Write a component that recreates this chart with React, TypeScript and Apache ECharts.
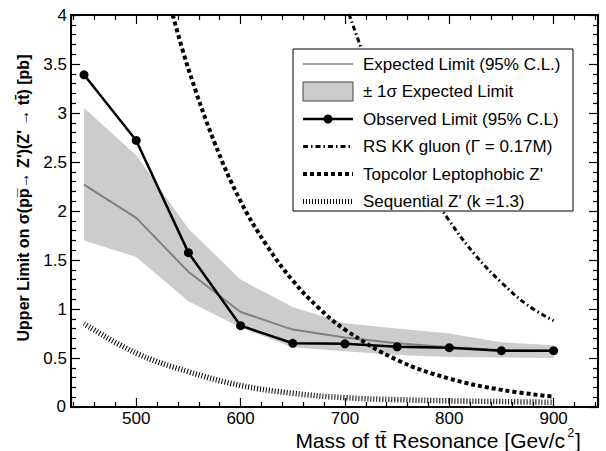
import React, { useEffect, useRef } from "react";
import * as echarts from "echarts";

// ---- data ----
const masses = [450, 500, 550, 600, 650, 700, 750, 800, 850, 900];
const observed = [3.39, 2.72, 1.575, 0.83, 0.65, 0.645, 0.615, 0.605, 0.575, 0.575];
const expected = [2.27, 1.93, 1.38, 0.97, 0.79, 0.71, 0.65, 0.61, 0.58, 0.575];
const bandUpper = [3.05, 2.57, 1.82, 1.3, 1.02, 0.855, 0.8, 0.75, 0.66, 0.63];
const bandLower = [1.7, 1.53, 1.08, 0.81, 0.61, 0.57, 0.53, 0.51, 0.505, 0.5];

const kkMass = [700, 725, 750, 775, 800, 825, 850, 875, 900];
const kkXsec = [4.13, 3.4, 2.8, 2.31, 1.9, 1.55, 1.27, 1.04, 0.88];
const tcMass = [535, 550, 575, 600, 625, 650, 675, 700, 750, 800, 850, 900];
const tcXsec = [4.0, 3.45, 2.7, 2.1, 1.65, 1.29, 1.01, 0.79, 0.48, 0.29, 0.175, 0.105];
const seqMass = [450, 500, 550, 600, 650, 700, 750, 800, 850, 900];
const seqXsec = [0.85, 0.55, 0.36, 0.22, 0.14, 0.095, 0.075, 0.063, 0.055, 0.048];

const xTickLabels = [500, 600, 700, 800, 900];
const yTickLabels = [0.5, 1, 1.5, 2, 2.5, 3, 3.5, 4];
const yOriginLabel = "0";

const legendLabels = [
  "Expected Limit (95% C.L.)",
  "\u00B1 1\u03C3 Expected Limit",
  "Observed Limit (95% C.L)",
  "RS KK gluon (\u0393 = 0.17M)",
  "Topcolor Leptophobic Z'",
  "Sequential Z' (k =1.3)",
];
const yTitle = "Upper Limit on \u03C3(pp\u0305\u2192 Z')(Z' \u2192 tt\u0304) [pb]";
const xTitleMain = "Mass of tt\u0304 Resonance [Gev/c";
const xTitleSup = "2";
const xTitleEnd = "]";

const FONT = '"Liberation Sans", Arial, Helvetica, sans-serif';

const pairs = (xs: number[], ys: number[]) => xs.map((x, i) => [x, ys[i]]);

export default function App() {
  const ref = useRef<HTMLDivElement>(null);
  useEffect(() => {
    if (!ref.current) return;
    const chart = echarts.init(ref.current, undefined, { renderer: "svg" });

    const axisCommon = (show: boolean) => ({
      axisLine: { show: true, onZero: false, lineStyle: { color: "#000", width: 2 } },
      axisTick: { show: true, inside: true, length: 9, lineStyle: { color: "#000", width: 1.2 } },
      minorTick: { show: true, splitNumber: 5, length: 5, lineStyle: { color: "#000", width: 1.2 } },
      splitLine: { show: false },
      axisLabel: {
        show,
        color: "#000",
        fontSize: 17,
        fontFamily: FONT,
        margin: 4,
      },
    });

    const xBase = { type: "value", min: 437.5, max: 942.5, splitNumber: 5 };
    const yBase = { type: "value", min: 0, max: 4, interval: 0.5 };

    const legendX0 = 303;
    const legendX1 = 353;
    const rowY = [64, 91.5, 119, 146.5, 174, 201.5];
    const Z = 100;

    const legendGraphics: any[] = [
      {
        type: "rect",
        z: Z,
        shape: { x: 293, y: 49, width: 280, height: 162 },
        style: { fill: "#fff", stroke: "#000", lineWidth: 1 },
      },
      {
        type: "line",
        z: Z + 1,
        shape: { x1: legendX0, y1: rowY[0], x2: legendX1, y2: rowY[0] },
        style: { stroke: "#808080", lineWidth: 1.5 },
      },
      {
        type: "rect",
        z: Z + 1,
        shape: { x: legendX0, y: rowY[1] - 9.5, width: 50, height: 19 },
        style: { fill: "#cccccc", stroke: "#444", lineWidth: 1 },
      },
      {
        type: "line",
        z: Z + 1,
        shape: { x1: legendX0, y1: rowY[2], x2: legendX1, y2: rowY[2] },
        style: { stroke: "#000", lineWidth: 2.5 },
      },
      {
        type: "circle",
        z: Z + 2,
        shape: { cx: (legendX0 + legendX1) / 2, cy: rowY[2], r: 4.5 },
        style: { fill: "#000" },
      },
      {
        type: "line",
        z: Z + 1,
        shape: { x1: legendX0, y1: rowY[3], x2: legendX1, y2: rowY[3] },
        style: { stroke: "#000", lineWidth: 3, lineDash: [5, 3, 1.5, 3] },
      },
      {
        type: "line",
        z: Z + 1,
        shape: { x1: legendX0, y1: rowY[4], x2: legendX1, y2: rowY[4] },
        style: { stroke: "#000", lineWidth: 4, lineDash: [4, 3] },
      },
      {
        type: "line",
        z: Z + 1,
        shape: { x1: legendX0, y1: rowY[5], x2: legendX1, y2: rowY[5] },
        style: { stroke: "#000", lineWidth: 5, lineDash: [1, 2] },
      },
      ...legendLabels.map((t, i) => ({
        type: "text",
        z: Z + 1,
        x: 363,
        y: rowY[i],
        style: {
          text: t,
          fill: "#000",
          fontSize: 17,
          fontFamily: FONT,
          align: "left",
          verticalAlign: "middle",
        },
      })),
    ];

    const bandData = masses.map((m, i) => [m, bandLower[i], bandUpper[i]]);

    const option: any = {
      animation: false,
      backgroundColor: "#fff",
      grid: { left: 71, right: 8, top: 15, bottom: 44, containLabel: false },
      xAxis: [
        {
          ...xBase,
          position: "bottom",
          ...axisCommon(true),
          axisLabel: {
            ...axisCommon(true).axisLabel,
            customValues: xTickLabels,
            lineHeight: 14,
            margin: 4.5,
          },
        },
        { ...xBase, position: "top", ...axisCommon(false) },
      ],
      yAxis: [
        {
          ...yBase,
          position: "left",
          ...axisCommon(true),
          axisLabel: {
            ...axisCommon(true).axisLabel,
            customValues: yTickLabels,
            hideOverlap: false,
          },
        },
        { ...yBase, position: "right", ...axisCommon(false) },
      ],
      series: [
        {
          name: legendLabels[1],
          type: "custom",
          data: bandData,
          encode: { x: 0, y: [1, 2] },
          clip: true,
          silent: true,
          z: 1,
          renderItem: (params: any, api: any) => {
            if (params.dataIndex !== 0) return null;
            const top = bandData.map((d) => api.coord([d[0], d[2]]));
            const bottom = bandData
              .slice()
              .reverse()
              .map((d) => api.coord([d[0], d[1]]));
            return {
              type: "polygon",
              shape: { points: top.concat(bottom) },
              style: { fill: "#cccccc", stroke: "none" },
            };
          },
        },
        {
          name: legendLabels[0],
          type: "line",
          data: pairs(masses, expected),
          symbol: "none",
          lineStyle: { color: "#808080", width: 2 },
          z: 2,
        },
        {
          name: legendLabels[3],
          type: "line",
          data: pairs(kkMass, kkXsec),
          smooth: 0.4,
          symbol: "none",
          lineStyle: { color: "#000", width: 3, type: [5, 3, 1.5, 3] },
          z: 3,
        },
        {
          name: legendLabels[4],
          type: "line",
          data: pairs(tcMass, tcXsec),
          smooth: 0.4,
          symbol: "none",
          lineStyle: { color: "#000", width: 4, type: [4, 3] },
          z: 3,
        },
        {
          name: legendLabels[5],
          type: "line",
          data: pairs(seqMass, seqXsec),
          smooth: 0.4,
          symbol: "none",
          lineStyle: { color: "#000", width: 5.5, type: [1, 2] },
          z: 3,
        },
        {
          name: legendLabels[2],
          type: "line",
          data: pairs(masses, observed),
          symbol: "circle",
          symbolSize: 9,
          itemStyle: { color: "#000" },
          lineStyle: { color: "#000", width: 2.5 },
          z: 4,
        },
      ],
      graphic: [
        ...legendGraphics,
        {
          type: "text",
          z: Z,
          x: 66,
          y: 406,
          style: {
            text: yOriginLabel,
            fill: "#000",
            fontSize: 17,
            fontFamily: FONT,
            align: "right",
            verticalAlign: "middle",
          },
        },
        {
          type: "text",
          z: Z,
          x: 23,
          y: 198,
          rotation: Math.PI / 2,
          style: {
            text: yTitle,
            fill: "#000",
            fontSize: 16,
            fontWeight: "bold",
            fontFamily: FONT,
            align: "center",
            verticalAlign: "middle",
          },
        },
        {
          type: "text",
          z: Z,
          x: 565,
          y: 440,
          style: {
            text: xTitleMain,
            fill: "#000",
            fontSize: 21,
            lineHeight: 16,
            fontFamily: FONT,
            align: "right",
            verticalAlign: "middle",
          },
        },
        {
          type: "text",
          z: Z,
          x: 567.5,
          y: 433,
          style: {
            text: xTitleSup,
            fill: "#000",
            fontSize: 12,
            lineHeight: 8,
            fontFamily: FONT,
            align: "left",
            verticalAlign: "middle",
          },
        },
        {
          type: "text",
          z: Z,
          x: 575,
          y: 440,
          style: {
            text: xTitleEnd,
            fill: "#000",
            fontSize: 21,
            lineHeight: 16,
            fontFamily: FONT,
            align: "left",
            verticalAlign: "middle",
          },
        },
      ],
    };

    chart.setOption(option);
    return () => chart.dispose();
  }, []);

  return (
    <div
      ref={ref}
      style={{ position: "fixed", left: 0, top: 0, width: 606, height: 451, background: "#fff" }}
    />
  );
}
